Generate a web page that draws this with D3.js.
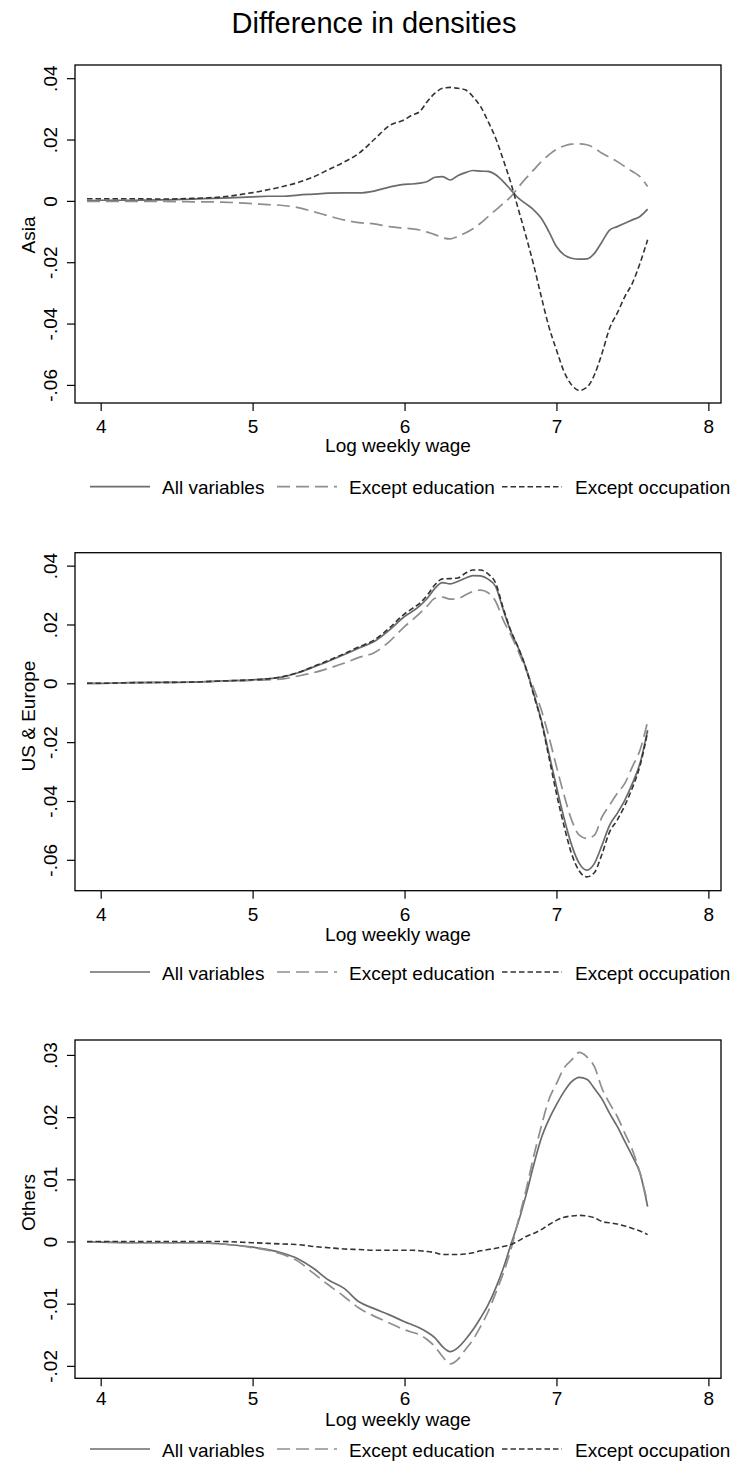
<!DOCTYPE html>
<html>
<head>
<meta charset="utf-8">
<script src="https://cdn.jsdelivr.net/npm/d3@7"></script>
<style>
  html, body { margin: 0; padding: 0; background: #fff; }
  svg text { font-family: "Liberation Sans", Arial, Helvetica, sans-serif; fill: #000; }
</style>
</head>
<body>
<svg id="chart" width="742" height="1479"></svg>
<script>
const title = "Difference in densities";
const xLabel = "Log weekly wage";
const xTicks = [4, 5, 6, 7, 8];
const seriesNames = ["All variables", "Except education", "Except occupation"];

const xs = [3.91, 4.0, 4.2, 4.4, 4.6, 4.8, 5.0, 5.1, 5.2, 5.3, 5.4, 5.5, 5.6, 5.7, 5.8, 5.9,
  6.0, 6.05, 6.1, 6.15, 6.2, 6.25, 6.3, 6.35, 6.4, 6.45, 6.5, 6.55, 6.6, 6.65, 6.7, 6.75,
  6.8, 6.85, 6.9, 6.95, 7.0, 7.05, 7.1, 7.15, 7.2, 7.25, 7.3, 7.35, 7.4, 7.45, 7.5, 7.55, 7.6];

// Asia
const asiaAll = [0.0001, 0.0002, 0.0002, 0.0003, 0.0006, 0.0009, 0.0013, 0.0015, 0.0015, 0.0019, 0.0022, 0.0025, 0.0026, 0.0026, 0.0032, 0.0045,
  0.0054, 0.0055, 0.0058, 0.0063, 0.0077, 0.0079, 0.0068, 0.0082, 0.0092, 0.0099, 0.0097, 0.0096, 0.0085, 0.0063, 0.0036, 0.0009,
  -0.0010, -0.0029, -0.0057, -0.0100, -0.0149, -0.0176, -0.0187, -0.0190, -0.0189, -0.0171, -0.0133, -0.0095, -0.0084, -0.0073, -0.0062, -0.0051, -0.0027];
const asiaEdu = [-0.0002, -0.0002, -0.0002, -0.0002, -0.0003, -0.0004, -0.0009, -0.0012, -0.0015, -0.0022, -0.0035, -0.0049, -0.0062, -0.0071, -0.0075, -0.0084,
  -0.0089, -0.0091, -0.0095, -0.0102, -0.0110, -0.0120, -0.0124, -0.0116, -0.0105, -0.0091, -0.0073, -0.0051, -0.0030, -0.0008, 0.0014, 0.0045,
  0.0074, 0.0101, 0.0128, 0.0150, 0.0168, 0.0179, 0.0185, 0.0186, 0.0183, 0.0172, 0.0155, 0.0142, 0.0128, 0.0112, 0.0096, 0.0079, 0.0047];
const asiaOcc = [0.0007, 0.0007, 0.0007, 0.0006, 0.0008, 0.0013, 0.0027, 0.0036, 0.0047, 0.0060, 0.0078, 0.0102, 0.0126, 0.0155, 0.0200, 0.0245,
  0.0265, 0.0280, 0.0291, 0.0324, 0.0351, 0.0367, 0.0370, 0.0367, 0.0362, 0.0340, 0.0308, 0.0259, 0.0204, 0.0134, 0.0058, -0.0029,
  -0.0116, -0.0209, -0.0312, -0.0410, -0.0486, -0.0557, -0.0600, -0.0618, -0.0608, -0.0567, -0.0497, -0.0415, -0.0366, -0.0312, -0.0268, -0.0203, -0.0127];

// US & Europe
const useuAll = [0.0000, 0.0000, 0.0002, 0.0003, 0.0004, 0.0008, 0.0012, 0.0015, 0.0022, 0.0036, 0.0055, 0.0075, 0.0097, 0.0120, 0.0142, 0.0181,
  0.0227, 0.0244, 0.0263, 0.0289, 0.0323, 0.0342, 0.0338, 0.0346, 0.0357, 0.0366, 0.0365, 0.0354, 0.0329, 0.0249, 0.0176, 0.0119,
  0.0051, -0.0034, -0.0125, -0.0238, -0.0351, -0.0459, -0.0550, -0.0612, -0.0635, -0.0612, -0.0550, -0.0482, -0.0442, -0.0397, -0.0340, -0.0272, -0.0159];
const useuEdu = [0.0000, 0.0000, 0.0002, 0.0003, 0.0004, 0.0007, 0.0010, 0.0012, 0.0015, 0.0025, 0.0036, 0.0051, 0.0068, 0.0088, 0.0104, 0.0142,
  0.0193, 0.0215, 0.0238, 0.0263, 0.0289, 0.0293, 0.0286, 0.0288, 0.0300, 0.0312, 0.0317, 0.0308, 0.0278, 0.0215, 0.0164, 0.0108,
  0.0045, -0.0017, -0.0090, -0.0181, -0.0283, -0.0380, -0.0465, -0.0516, -0.0527, -0.0516, -0.0454, -0.0414, -0.0374, -0.0340, -0.0283, -0.0227, -0.0130];
const useuOcc = [0.0000, 0.0000, 0.0002, 0.0003, 0.0004, 0.0008, 0.0012, 0.0015, 0.0023, 0.0037, 0.0057, 0.0078, 0.0100, 0.0124, 0.0147, 0.0188,
  0.0236, 0.0254, 0.0272, 0.0300, 0.0335, 0.0355, 0.0356, 0.0358, 0.0374, 0.0385, 0.0385, 0.0372, 0.0340, 0.0255, 0.0178, 0.0120,
  0.0050, -0.0040, -0.0130, -0.0250, -0.0375, -0.0485, -0.0580, -0.0638, -0.0658, -0.0643, -0.0580, -0.0505, -0.0465, -0.0415, -0.0355, -0.0280, -0.0165];

// Others
const othAll = [-0.0001, -0.0001, -0.0002, -0.0002, -0.0002, -0.0004, -0.0009, -0.0013, -0.0019, -0.0028, -0.0043, -0.0062, -0.0075, -0.0097, -0.0108, -0.0118,
  -0.0129, -0.0134, -0.0139, -0.0146, -0.0155, -0.0169, -0.0177, -0.0171, -0.0158, -0.0142, -0.0123, -0.0102, -0.0075, -0.0043, -0.0005, 0.0032,
  0.0075, 0.0123, 0.0166, 0.0196, 0.0220, 0.0241, 0.0257, 0.0264, 0.0261, 0.0246, 0.0229, 0.0206, 0.0185, 0.0161, 0.0137, 0.0110, 0.0056];
const othEdu = [-0.0001, -0.0001, -0.0002, -0.0002, -0.0002, -0.0004, -0.0010, -0.0014, -0.0021, -0.0032, -0.0051, -0.0070, -0.0088, -0.0107, -0.0120, -0.0131,
  -0.0142, -0.0146, -0.0150, -0.0158, -0.0169, -0.0185, -0.0197, -0.0190, -0.0174, -0.0158, -0.0137, -0.0113, -0.0083, -0.0051, -0.0013, 0.0035,
  0.0083, 0.0137, 0.0185, 0.0228, 0.0254, 0.0279, 0.0292, 0.0304, 0.0297, 0.0281, 0.0246, 0.0222, 0.0201, 0.0174, 0.0147, 0.0110, 0.0062];
const othOcc = [0.0000, 0.0000, 0.0000, 0.0000, 0.0000, 0.0000, -0.0002, -0.0003, -0.0004, -0.0005, -0.0008, -0.0010, -0.0012, -0.0013, -0.0014, -0.0014,
  -0.0014, -0.0014, -0.0015, -0.0016, -0.0018, -0.0021, -0.0021, -0.0021, -0.0020, -0.0018, -0.0015, -0.0013, -0.0011, -0.0008, -0.0005, 0.0001,
  0.0008, 0.0013, 0.0019, 0.0027, 0.0034, 0.0039, 0.0041, 0.0042, 0.0041, 0.0038, 0.0032, 0.0030, 0.0028, 0.0025, 0.0021, 0.0017, 0.0011];

const yTicksA = [-0.06, -0.04, -0.02, 0, 0.02, 0.04];
const yTicksC = [-0.02, -0.01, 0, 0.01, 0.02, 0.03];

const panels = [
  { label: "Asia", series: [asiaAll, asiaEdu, asiaOcc], ticks: yTicksA, domain: [-0.0659, 0.0443],
    top: 65, bottom: 403, tickLabelY: 432.7, xTitleY: 451.5, legendY: 486.7, yLabelC: 235 },
  { label: "US & Europe", series: [useuAll, useuEdu, useuOcc], ticks: yTicksA, domain: [-0.0705, 0.0444],
    top: 552.7, bottom: 890.7, tickLabelY: 921.3, xTitleY: 940.5, legendY: 972, yLabelC: 716 },
  { label: "Others", series: [othAll, othEdu, othOcc], ticks: yTicksC, domain: [-0.022, 0.0324],
    top: 1040, bottom: 1378.3, tickLabelY: 1405.5, xTitleY: 1426, legendY: 1449, yLabelC: 1202.5 }
];

const styles = [
  { color: "#6b6b6b", dash: null, width: 1.7 },
  { color: "#8e8e8e", dash: "13,6", width: 1.7 },
  { color: "#333333", dash: "5.5,3", width: 1.6 }
];

const svg = d3.select("#chart");
const left = 75, right = 721;
const FS = 19;

svg.append("text").attr("x", 374).attr("y", 33.3).attr("text-anchor", "middle")
  .style("font-size", "29px").text(title);

const x = d3.scaleLinear().domain([3.831, 8.083]).range([left, right]);

function fmt(v) {
  if (Math.abs(v) < 1e-9) return "0";
  const s = d3.format(".2f")(Math.abs(v)).replace(/^0/, "");
  return (v < 0 ? "-" : "") + s;
}

panels.forEach(p => {
  const g = svg.append("g");
  const y = d3.scaleLinear().domain(p.domain).range([p.bottom, p.top]);

  // lines
  p.series.forEach((vals, i) => {
    const data = xs.map((xv, k) => [xv, vals[k]]);
    const line = d3.line().x(d => x(d[0])).y(d => y(d[1])).curve(d3.curveMonotoneX);
    g.append("path").datum(data).attr("d", line)
      .attr("fill", "none").attr("stroke", styles[i].color)
      .attr("stroke-width", styles[i].width)
      .attr("stroke-dasharray", styles[i].dash)
      .attr("stroke-linejoin", "round");
  });

  // frame
  g.append("rect").attr("x", left).attr("y", p.top).attr("width", right - left).attr("height", p.bottom - p.top)
    .attr("fill", "none").attr("stroke", "#000").attr("stroke-width", 1.3);

  // x axis
  const xa = d3.axisBottom(x).tickValues(xTicks).tickSize(8).tickFormat(d3.format("d"));
  const xg = g.append("g").attr("transform", `translate(0,${p.bottom})`).call(xa);
  xg.select(".domain").remove();
  xg.selectAll(".tick line").attr("stroke", "#000").attr("stroke-width", 1.2);
  xg.selectAll(".tick text").attr("y", p.tickLabelY - p.bottom).attr("dy", null)
    .style("font-size", FS + "px").style("font-family", "Liberation Sans, Arial, sans-serif").attr("fill", "#000");

  // y axis
  const ya = d3.axisLeft(y).tickValues(p.ticks).tickSize(8).tickFormat(fmt);
  const yg = g.append("g").attr("transform", `translate(${left},0)`).call(ya);
  yg.select(".domain").remove();
  yg.selectAll(".tick line").attr("stroke", "#000").attr("stroke-width", 1.2);
  yg.selectAll(".tick text")
    .attr("x", null).attr("dy", null)
    .attr("transform", `translate(${57 - left},0) rotate(-90)`)
    .attr("text-anchor", "middle")
    .style("font-size", FS + "px").style("font-family", "Liberation Sans, Arial, sans-serif").attr("fill", "#000");

  // y label
  g.append("text").attr("transform", `translate(35,${p.yLabelC}) rotate(-90)`)
    .attr("text-anchor", "middle").style("font-size", FS + "px").text(p.label);

  // x title
  g.append("text").attr("x", (left + right) / 2).attr("y", p.xTitleY)
    .attr("text-anchor", "middle").style("font-size", FS + "px").text(xLabel);

  // legend
  const keys = [[90, 150, 162], [277, 337, 349], [502, 562, 575]];
  keys.forEach((k, i) => {
    g.append("line").attr("x1", k[0]).attr("x2", k[1]).attr("y1", p.legendY).attr("y2", p.legendY)
      .attr("stroke", styles[i].color).attr("stroke-width", styles[i].width)
      .attr("stroke-dasharray", styles[i].dash);
    g.append("text").attr("x", k[2]).attr("y", p.legendY + 7.6)
      .style("font-size", FS + "px").text(seriesNames[i]);
  });
});
</script>
</body>
</html>
